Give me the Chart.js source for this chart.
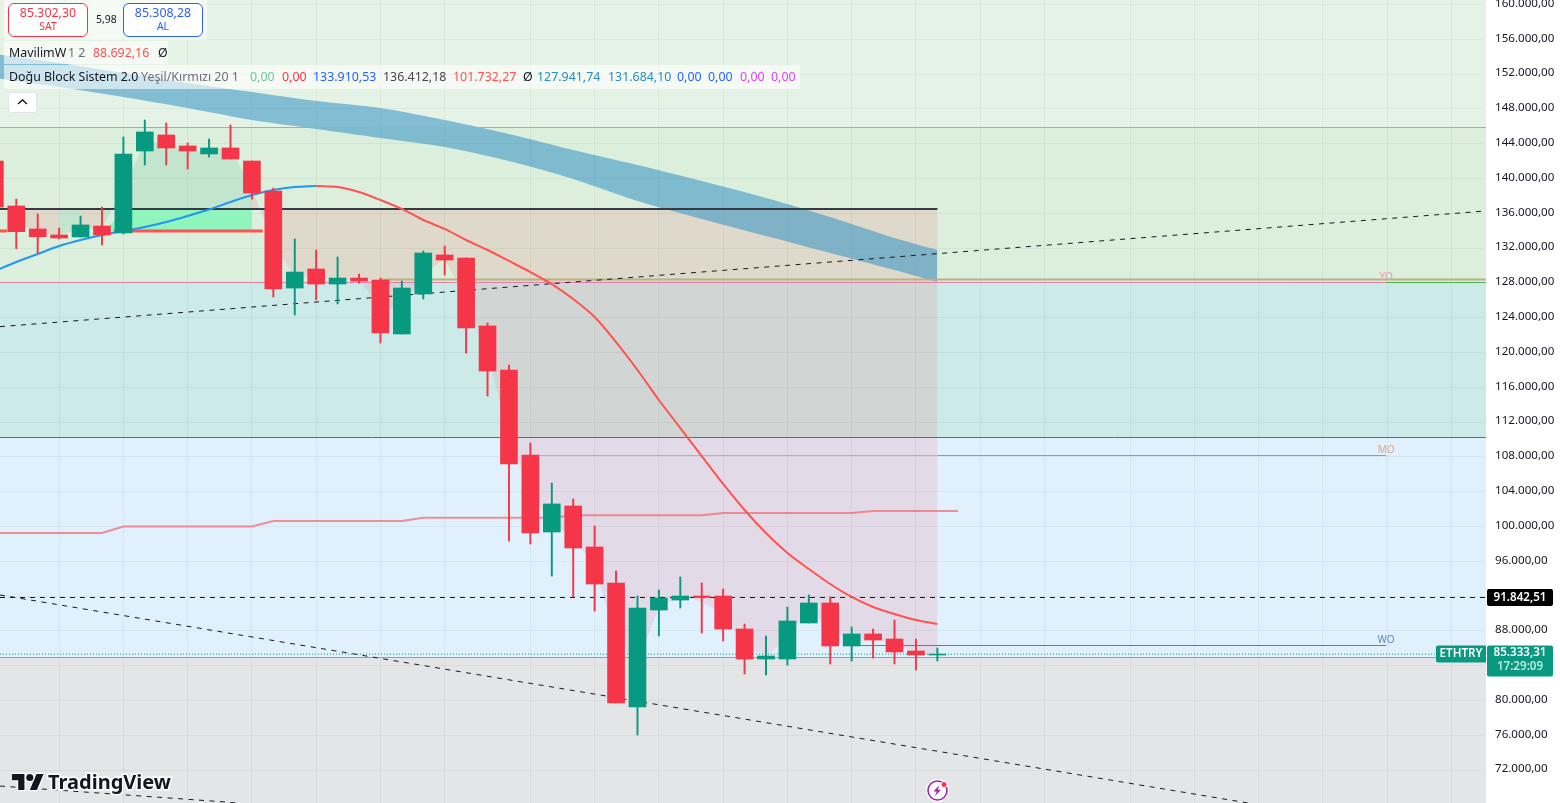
<!DOCTYPE html>
<html lang="tr">
<head>
<meta charset="utf-8">
<title>ETHTRY</title>
<script src="https://cdn.jsdelivr.net/npm/chart.js@4/dist/chart.umd.min.js"></script>
<style>
    body { margin: 0; background: #fff; font-family: "Noto Sans", sans-serif; overflow: hidden; }
    #wrap { position: relative; width: 1560px; height: 803px; overflow: hidden; }
    canvas { display: block; }
    .strip { position: absolute; background: rgba(255,255,255,.6); }
    .txt { position: absolute; font-size: 12.4px; line-height: 16px; white-space: nowrap; color: #131722; }
    .gray { color: #6a6d78; }
    .box { position: absolute; top: 3px; width: 78px; height: 31px; background: #fff; border: 1px solid; border-radius: 6px; text-align: center; font-size: 12.4px; line-height: 15px; padding-top: 1px; }
    .box small { display: block; font-size: 10.5px; line-height: 13px; }
    #collapse { position: absolute; left: 8px; top: 92px; width: 27px; height: 19px; background: #fff; border: 1px solid #e0e3eb; border-radius: 3px; }
    #logo { position: absolute; left: 12px; top: 771px; }
    #logoText { position: absolute; left: 48px; top: 768px; font-size: 20px; line-height: 28px; font-weight: 700; color: #131722; -webkit-text-stroke: 3px #fff; paint-order: stroke fill; }
    #bolt { position: absolute; left: 925px; top: 778px; }
</style>
</head>
<body>
<div id="wrap">
    <canvas id="chart" width="1560" height="803"></canvas>

    <!-- Legende oben links -->
    <div class="strip" style="left:4px;top:0;width:203px;height:40px"></div>
    <div class="strip" style="left:4px;top:41px;width:164px;height:23px"></div>
    <div class="strip" style="left:4px;top:65px;width:796px;height:24px"></div>

    <div class="box" style="left:8px;border-color:#f23645;color:#f23645">85.302,30<small>SAT</small></div>
    <div class="txt" style="left:96px;top:11px;font-size:10.5px">5,98</div>
    <div class="box" style="left:123px;border-color:#2962ff;color:#2962ff">85.308,28<small>AL</small></div>

    <div class="txt" style="left:9px;top:45px">MavilimW</div>
    <div class="txt gray" style="left:68px;top:45px">1 2</div>
    <div class="txt" style="left:93px;top:45px;color:#ff5252">88.692,16</div>
    <div class="txt" style="left:158px;top:45px">Ø</div>

    <div class="txt" style="left:9px;top:69px">Doğu Block Sistem 2.0</div>
    <div class="txt gray" style="left:141px;top:69px">Yeşil/Kırmızı 20 1</div>
    <div class="txt" style="left:250px;top:69px;color:#6fc3a0">0,00</div>
    <div class="txt" style="left:282px;top:69px;color:#f23645">0,00</div>
    <div class="txt" style="left:313px;top:69px;color:#2962ff">133.910,53</div>
    <div class="txt" style="left:383px;top:69px;color:#434651">136.412,18</div>
    <div class="txt" style="left:453px;top:69px;color:#ff5252">101.732,27</div>
    <div class="txt" style="left:523px;top:69px">Ø</div>
    <div class="txt" style="left:537px;top:69px;color:#2190c0">127.941,74</div>
    <div class="txt" style="left:608px;top:69px;color:#2190c0">131.684,10</div>
    <div class="txt" style="left:677px;top:69px;color:#2962ff">0,00</div>
    <div class="txt" style="left:708px;top:69px;color:#2962ff">0,00</div>
    <div class="txt" style="left:740px;top:69px;color:#e040fb">0,00</div>
    <div class="txt" style="left:771px;top:69px;color:#e040fb">0,00</div>

    <div id="collapse">
        <svg width="27" height="19" viewBox="0 0 27 19"><polyline points="9,11 13.5,7 18,11" fill="none" stroke="#131722" stroke-width="1.4"/></svg>
    </div>

    <!-- Logo -->
    <svg id="logo" width="32" height="22" viewBox="0 2 36 22">
        <g fill="#131722" stroke="#fff" stroke-width="3" paint-order="stroke">
            <path d="M14 22H7V11H0V4h14v18zM28 22h-8l7.5-18h8L28 22z"/>
            <circle cx="20" cy="8" r="4"/>
        </g>
    </svg>
    <div id="logoText">TradingView</div>

    <svg id="bolt" width="25" height="25" viewBox="0 0 25 25">
        <circle cx="12.5" cy="12.5" r="11.5" fill="#fff"/>
        <circle cx="12.5" cy="12.5" r="9.5" fill="none" stroke="#9c27b0" stroke-width="1.6"/>
        <path d="M14.5 7l-6 6.5h3.2l-1.7 4.5 6-6.3h-3.2z" fill="#9c27b0"/>
        <circle cx="19" cy="6.5" r="3" fill="#f23645" stroke="#fff" stroke-width="1"/>
    </svg>
</div>

<script>
// Kerzen: Index und OHLC
const candleIndex = [-1, 0, 1, 2, 3, 4, 5, 6, 7, 8, 9, 10, 11, 12, 13, 14, 15, 16, 17, 18, 19, 20, 21, 22, 23, 24, 25, 26, 27, 28, 29, 30, 31, 32, 33, 34, 35, 36, 37, 38, 39, 40, 41, 42, 43];
const opens = [142010, 136840, 134200, 133510, 133280, 134540, 133740, 143160, 145000, 143740, 142820, 143510, 142010, 138560, 127410, 129600, 127870, 128560, 128330, 122130, 126730, 131210, 130860, 123050, 117990, 108220, 99370, 102360, 97650, 93510, 79250, 90400, 91550, 92010, 92010, 88220, 84770, 84770, 88910, 91210, 86270, 87650, 87070, 85690, 85230];
const highs = [142010, 137640, 135920, 134310, 135690, 136720, 144770, 146720, 146380, 144080, 144540, 146150, 142010, 138910, 133050, 131780, 130980, 129020, 128560, 128220, 131670, 132240, 130860, 123390, 118560, 109600, 105000, 103160, 100060, 94890, 92010, 92700, 94200, 93510, 92820, 88790, 87420, 90750, 92130, 91900, 88450, 88220, 89250, 87070, 86040];
const lows = [136720, 131930, 131440, 133050, 133280, 132360, 133620, 141550, 141550, 141090, 142470, 142240, 137640, 126380, 124310, 126040, 125580, 127990, 121090, 122130, 126150, 128910, 119940, 115000, 98330, 97990, 94310, 91900, 90290, 79710, 76040, 87420, 90630, 87760, 86840, 83050, 82930, 84080, 88910, 84200, 84540, 84890, 84200, 83510, 84540];
const closes = [136720, 133890, 133310, 133160, 134660, 133510, 142820, 145350, 143510, 143160, 143510, 142240, 138330, 127300, 129250, 127870, 128560, 128220, 122240, 127410, 131440, 130630, 122820, 117870, 107190, 99250, 102590, 97530, 93390, 79710, 90630, 91780, 92010, 91840, 88220, 84770, 85120, 89140, 91210, 86270, 87650, 86960, 85580, 85230, 85333.31];

// Füllkurve zwischen Block-Niveau und Kurs
const fillIndex = [0, 1, 2, 3, 4, 5, 6, 7, 8, 9, 10, 11, 12, 13, 14, 15, 16, 17, 18, 19, 20, 21, 22, 23, 24, 25, 26, 27, 28, 29, 30, 31, 32, 33, 34, 35, 36, 37, 38, 39, 40, 41, 42, 43];
const fillValues = [135050, 133710, 133510, 134200, 134310, 138740, 144200, 144080, 143050, 143330, 143510, 138680, 132820, 128510, 128820, 128240, 128450, 125060, 125000, 129020, 130750, 126150, 119830, 110520, 103740, 100290, 98740, 95350, 86960, 84540, 90580, 92130, 91320, 89940, 86270, 85060, 87190, 90290, 88390, 86730, 86960, 86610, 85350, 85290];
const greenSegments = [2, 4, 5, 6, 7, 8, 9, 10];

// MavilimW
const blueIndex = [-1, 0, 1, 2, 3, 4, 5, 6, 7, 8, 9, 10, 11, 12, 13, 14];
const blueValues = [129370, 130400, 131320, 132240, 132930, 133510, 133970, 134430, 135000, 135690, 136440, 137300, 138100, 138680, 139020, 139140];
const redIndex = [14, 15, 16, 17, 18, 19, 20, 21, 22, 23, 24, 25, 26, 27, 28, 29, 30, 31, 32, 33, 34, 35, 36, 37, 38, 39, 40, 41, 42, 43];
const redValues = [139140, 139020, 138450, 137530, 136500, 135230, 134200, 132930, 131780, 130520, 129250, 127870, 126150, 124080, 121200, 117990, 114540, 111320, 108100, 104890, 101900, 99250, 96960, 95120, 93390, 91900, 90750, 89940, 89250, 88790];

// Blaue Wolke
const cloudIndex = [-1, 2, 5, 8, 11, 14, 17, 20, 23, 26, 29, 32, 35, 38, 41, 43];
const cloudUpper = [154310, 153280, 152130, 150980, 149940, 148910, 148100, 146720, 145120, 143280, 141550, 139710, 137760, 135580, 133160, 131780];
const cloudLower = [151550, 150520, 149370, 148100, 146720, 145690, 144660, 143620, 142010, 139940, 137410, 135350, 133390, 131440, 129480, 128100];

// Lachsfarbene Stufenlinie
const stepIndex = [-1, 4, 5, 11, 12, 18, 19, 25, 26, 32, 33, 39, 40, 43.96];
const stepValues = [99250, 99250, 100000, 100000, 100630, 100630, 101010, 101010, 101290, 101290, 101550, 101550, 101780, 101780];

// Niveaus
const lastPrice = 85333.31;
const linePrice = 91842.51;
const blockLevel = 136500;
const boxLevel = 133970;
const levelGreen = 145860;
const levelYearBand = 128160;
const levelYearPink = 128050;
const levelYearOlive = 128390;
const levelMonthBand = 110230;
const levelMonth = 108160;
const levelWeek = 86320;
const levelGray = 84940;
const trendUp = [122970, 136270];
const trendDown = [92130, 63660];
const trendCorner = [70170, 68340, 68160];

// Achsen
const yMin = 68220;
const yMax = 160517;
const xMin = -0.761;
const xMax = 68.614;
const yTicks = [72000, 76000, 80000, 84000, 88000, 92000, 96000, 100000, 104000, 108000, 112000, 116000, 120000, 124000, 128000, 132000, 136000, 140000, 144000, 148000, 152000, 156000, 160000];
const xGrid = [2, 5, 8, 11, 14, 17, 20, 24, 27, 30, 33, 36, 39, 42, 45, 48, 52, 55, 58, 61, 64, 67];

const upColor = '#089981';
const downColor = '#f43648';
const fillRed = 'rgba(242,54,69,.12)';
const fillGreen = 'rgba(20,160,100,.12)';

function formatPrice(value) {
    return value.toLocaleString('de-DE', { minimumFractionDigits: 2, maximumFractionDigits: 2 });
}

function points(xs, ys) {
    return xs.map((x, i) => ({ x: x, y: ys[i] }));
}

// Einfache Linie ohne Punkte
function lineSet(xs, ys, order, color, width, extra) {
    return Object.assign({
        type: 'line',
        data: points(xs, ys),
        order: order,
        borderColor: color,
        borderWidth: width,
        pointRadius: 0,
        fill: false,
        tension: 0
    }, extra || {});
}

// Horizontale Fläche von top bis bottom
function bandSet(top, bottom, color) {
    return lineSet([xMin, xMax], [top, top], 100, 'transparent', 0, {
        fill: { value: bottom },
        backgroundColor: color
    });
}

const datasets = [
    // Hintergrundbänder
    bandSet(yMax, levelGreen, 'rgba(76,175,80,.145)'),
    bandSet(levelGreen, levelYearBand, 'rgba(76,175,80,.2)'),
    bandSet(levelYearBand, levelMonthBand, 'rgba(0,150,136,.2)'),
    bandSet(levelMonthBand, levelGray, 'rgba(33,150,243,.14)'),
    bandSet(levelGray, yMin, 'rgba(120,123,134,.2)'),

    // Füllung zwischen Kurs und Block-Niveau
    lineSet(fillIndex, fillValues, 70, 'transparent', 0, {
        fill: { value: blockLevel },
        backgroundColor: fillRed,
        segment: {
            backgroundColor: ctx => greenSegments.includes(ctx.p0DataIndex) ? fillGreen : fillRed
        }
    }),
    lineSet([4.1, 5.1, 11], [boxLevel, blockLevel, blockLevel], 65, 'transparent', 0, {
        fill: { value: boxLevel },
        backgroundColor: '#90f5bc'
    }),

    // Wolke
    lineSet(cloudIndex, cloudUpper, 60, 'transparent', 0, {
        fill: '+1',
        backgroundColor: 'rgba(65,152,199,.6)',
        tension: 0.3
    }),
    lineSet(cloudIndex, cloudLower, 60, 'transparent', 0, { tension: 0.3 }),

    // Niveaulinien
    lineSet([xMin, xMax], [levelGreen, levelGreen], 50, '#81c784', 1),
    lineSet([17, xMax], [levelYearOlive, levelYearOlive], 50, '#b9b27c', 2),
    lineSet([xMin, 63.95], [levelYearPink, levelYearPink], 49, '#e57bab', 1),
    lineSet([63.95, xMax], [levelYearPink, levelYearPink], 49, '#4caf50', 1),
    lineSet([xMin, xMax], [levelMonthBand, levelMonthBand], 50, '#3d7f7a', 1),
    lineSet([24, 43], [levelMonth, levelMonth], 50, '#f0a070', 1),
    lineSet([43, 63.95], [levelMonth, levelMonth], 50, '#8f9bb3', 1),
    lineSet([xMin, xMax], [levelGray, levelGray], 50, '#6fa8dc', 1),
    lineSet([39, 63.95], [levelWeek, levelWeek], 50, '#4f7fbf', 1),

    // Gestrichelte Trendlinien
    lineSet([xMin, xMax], trendUp, 45, '#131722', 1, { borderDash: [5, 5.5] }),
    lineSet([xMin, xMax], trendDown, 45, '#131722', 1, { borderDash: [5, 5.5] }),
    lineSet([xMin, 9.74, 10.5], trendCorner, 45, '#131722', 1, { borderDash: [5, 5.5] }),
    lineSet([xMin, xMax], [linePrice, linePrice], 44, '#131722', 1, { borderDash: [5, 5] }),
    lineSet([xMin, 66.3], [lastPrice, lastPrice], 44, upColor, 1, { borderDash: [1, 2] }),

    // Block-Linien
    lineSet([xMin, 43], [blockLevel, blockLevel], 42, '#363a45', 2),
    lineSet([xMin, -0.43], [boxLevel, boxLevel], 41, '#ff5252', 3),
    lineSet([4.55, 11.5], [boxLevel, boxLevel], 41, '#ff5252', 3),

    // Stufenlinie und MavilimW
    lineSet(stepIndex, stepValues, 30, 'rgba(242,110,115,.75)', 2),
    lineSet(blueIndex, blueValues, 20, '#2196f3', 2, { tension: 0.3 }),
    lineSet(redIndex, redValues, 20, '#ff5252', 2, { tension: 0.3 }),

    // Kerzen: Docht und Körper
    {
        type: 'bar',
        data: candleIndex.map((x, i) => ({ x: x, y: [lows[i], highs[i]] })),
        order: 11,
        barThickness: 1.3,
        backgroundColor: candleIndex.map((x, i) => closes[i] >= opens[i] ? upColor : downColor)
    },
    {
        type: 'bar',
        data: candleIndex.map((x, i) => ({ x: x, y: [opens[i], closes[i]] })),
        order: 10,
        barThickness: 17,
        backgroundColor: candleIndex.map((x, i) => closes[i] >= opens[i] ? upColor : downColor)
    }
];

// Preisschilder und Niveau-Beschriftungen
const priceBadges = {
    id: 'priceBadges',
    afterDraw(chart) {
        const ctx = chart.ctx;
        const yScale = chart.scales.y;
        const xScale = chart.scales.x;
        const font = size => `${size}px "Noto Sans", sans-serif`;

        ctx.save();
        ctx.textAlign = 'center';
        ctx.textBaseline = 'middle';

        // Niveau-Beschriftungen
        const labelX = xScale.getPixelForValue(63.95);
        ctx.font = font(10);
        ctx.fillStyle = '#e79cbd';
        ctx.fillText('YO', labelX, yScale.getPixelForValue(levelYearPink) - 5);
        ctx.fillStyle = '#e8a56f';
        ctx.fillText('MO', labelX, yScale.getPixelForValue(levelMonth) - 5);
        ctx.fillStyle = '#5b8bc9';
        ctx.fillText('WO', labelX, yScale.getPixelForValue(levelWeek) - 5);

        // Schwarzes Preisschild
        const lineY = yScale.getPixelForValue(linePrice);
        ctx.fillStyle = '#000';
        ctx.beginPath();
        ctx.roundRect(1487, lineY - 8.5, 66, 17, 2);
        ctx.fill();
        ctx.fillStyle = '#fff';
        ctx.font = '600 ' + font(11.6);
        ctx.fillText(formatPrice(linePrice), 1520, lineY);

        // Letzter Kurs
        const lastY = yScale.getPixelForValue(lastPrice);
        ctx.fillStyle = upColor;
        ctx.beginPath();
        ctx.roundRect(1436, lastY - 8.5, 50, 17, [2, 0, 0, 2]);
        ctx.fill();
        ctx.beginPath();
        ctx.roundRect(1487, lastY - 8.5, 66, 31, 2);
        ctx.fill();
        ctx.fillStyle = '#fff';
        ctx.fillText('ETHTRY', 1461, lastY);
        ctx.fillText(formatPrice(lastPrice), 1520, lastY - 1);
        ctx.fillStyle = 'rgba(255,255,255,.75)';
        ctx.fillText('17:29:09', 1520, lastY + 13);
        ctx.restore();
    }
};

new Chart(document.getElementById('chart'), {
    data: { datasets: datasets },
    plugins: [priceBadges],
    options: {
        responsive: false,
        animation: false,
        parsing: { xAxisKey: 'x', yAxisKey: 'y' },
        layout: { padding: 0 },
        datasets: { bar: { grouped: false } },
        plugins: {
            legend: { display: false },
            tooltip: { enabled: false }
        },
        scales: {
            x: {
                type: 'linear',
                min: xMin,
                max: xMax,
                offset: false,
                border: { display: false },
                grid: { offset: false, color: 'rgba(42,46,57,.06)', drawTicks: false },
                ticks: { display: false },
                afterBuildTicks: axis => { axis.ticks = xGrid.map(v => ({ value: v })); },
                afterFit: axis => { axis.height = 0; axis.paddingLeft = 0; axis.paddingRight = 0; }
            },
            y: {
                type: 'linear',
                position: 'right',
                min: yMin,
                max: yMax,
                border: { display: false },
                grid: { color: 'rgba(42,46,57,.06)', drawTicks: false },
                ticks: {
                    autoSkip: false,
                    padding: 9,
                    labelOffset: -1,
                    color: '#131722',
                    font: { family: '"Noto Sans", sans-serif', size: 11.6 },
                    callback: value => formatPrice(value)
                },
                afterBuildTicks: axis => { axis.ticks = yTicks.map(v => ({ value: v })); },
                afterFit: axis => { axis.width = 74; axis.paddingTop = 0; axis.paddingBottom = 0; }
            }
        }
    }
});
</script>
</body>
</html>
